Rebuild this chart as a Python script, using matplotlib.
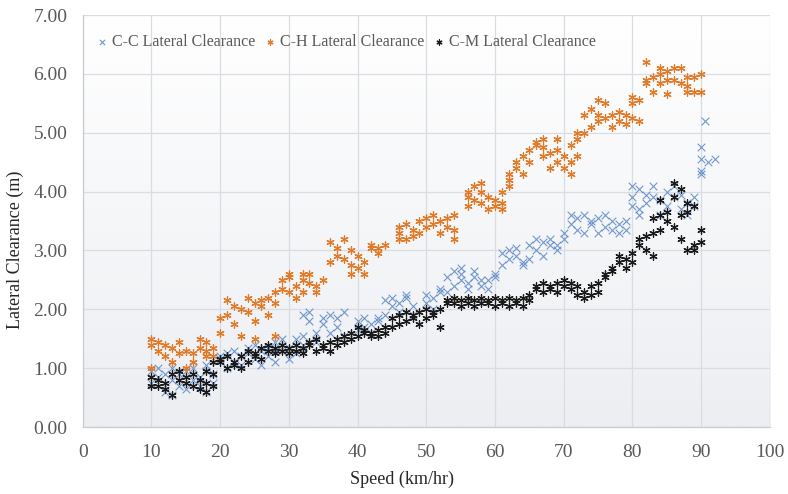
import numpy as np
import matplotlib
matplotlib.use("Agg")
import matplotlib.pyplot as plt

# Speed (km/hr) and lateral clearance (m) for each vehicle-pair type
cc_speed = [10, 10, 11, 11, 12, 12, 13, 13, 13, 14, 14, 15, 15, 16, 16, 17, 17, 18, 18, 18, 19, 19,
            20, 20, 21, 21, 22, 22, 23, 23, 24, 24, 25, 25, 26, 26, 27, 27, 28, 28, 28, 29, 29, 30, 30,
            31, 31, 32, 32, 32, 33, 33, 34, 34, 35, 35, 36, 36, 37, 37, 38, 38,
            40, 40, 41, 41, 42, 42, 43, 43, 44, 44, 45, 45, 46, 46, 47, 47, 48, 48,
            50, 50, 51, 51, 52, 52, 53, 53, 54, 54, 55, 55, 55, 56, 56, 57, 57, 58, 58, 59, 59, 60, 60,
            61, 61, 62, 62, 63, 63, 64, 64, 65, 65, 66, 66, 67, 67, 68, 68, 69, 69, 70, 70,
            71, 71, 72, 72, 73, 73, 74, 74, 75, 75, 76, 76, 77, 77, 78, 78, 79, 79,
            80, 80, 80, 81, 81, 81, 82, 82, 83, 83, 84, 84, 85, 85, 86, 86, 87, 87, 88, 88, 89, 89,
            90, 90, 90, 90, 90.5, 91, 92]
cc_clear = [0.95, 0.75, 0.85, 1.00, 0.60, 0.90, 0.55, 0.80, 1.00, 0.70, 0.90, 0.95, 0.65, 0.80, 1.00, 0.85, 0.70, 0.95, 1.05, 0.60, 0.75, 0.90,
            1.15, 1.20, 1.00, 1.25, 1.10, 1.30, 1.20, 1.05, 1.25, 1.35, 1.15, 1.40, 1.30, 1.05, 1.35, 1.20, 1.30, 1.45, 1.10, 1.30, 1.50, 1.35, 1.15,
            1.25, 1.50, 1.90, 1.40, 1.55, 1.95, 1.80, 1.60, 1.45, 1.75, 1.85, 1.90, 1.60, 1.85, 1.70, 1.95, 1.55,
            1.65, 1.80, 1.70, 1.85, 1.60, 1.75, 1.85, 1.80, 2.15, 1.90, 2.20, 2.05, 2.10, 1.95, 2.25, 2.20, 2.05, 1.90,
            2.10, 2.25, 2.20, 2.00, 2.35, 2.30, 2.55, 2.30, 2.65, 2.40, 2.60, 2.50, 2.70, 2.45, 2.35, 2.65, 2.55, 2.40, 2.50, 2.50, 2.35, 2.55, 2.60,
            2.95, 2.75, 3.00, 2.85, 2.90, 3.05, 2.75, 2.80, 2.85, 3.10, 3.20, 3.00, 3.15, 2.90, 3.10, 3.20, 3.00, 3.10, 3.20, 3.30,
            3.60, 3.45, 3.55, 3.35, 3.60, 3.30, 3.45, 3.50, 3.55, 3.30, 3.40, 3.60, 3.35, 3.50, 3.45, 3.30, 3.50, 3.35,
            3.75, 4.10, 3.90, 4.05, 3.70, 3.60, 3.95, 3.80, 4.10, 3.90, 3.85, 3.60, 3.75, 4.00, 3.90, 4.10, 3.70, 3.95, 3.80, 3.60, 3.90, 3.75,
            4.75, 4.55, 4.35, 4.30, 5.20, 4.50, 4.55]

ch_speed = [10, 10, 10, 11, 11, 12, 12, 13, 13, 14, 14, 15, 15, 16, 16, 17, 17, 18, 18, 18, 19, 19,
            20, 20, 21, 21, 22, 22, 23, 23, 24, 24, 25, 25, 25, 26, 26, 27, 27, 28, 28, 28, 29, 29,
            30, 30, 30, 31, 31, 32, 32, 32, 33, 33, 34, 34, 35,
            36, 36, 37, 37, 38, 38, 39, 39, 39, 40, 40, 41, 41, 42, 42, 43, 43, 44,
            46, 46, 46, 47, 47, 48, 48, 49, 49, 50, 50, 51, 51, 52, 52, 53, 53, 54, 54, 54,
            56, 56, 56, 57, 57, 58, 58, 58, 59, 59, 60, 60, 61, 61, 61, 62, 62, 62, 63, 63, 64, 64,
            65, 65, 66, 66, 67, 67, 67, 68, 68, 69, 69, 69, 70, 70, 71, 71, 71, 72, 72, 72,
            73, 73, 74, 74, 75, 75, 75, 76, 76, 77, 77, 78, 78, 79, 79, 80, 80, 80, 81, 81,
            82, 82, 82, 83, 83, 84, 84, 84, 85, 85, 85, 86, 86, 87, 87, 88, 88, 88, 89, 89, 90, 90]
ch_clear = [1.00, 1.40, 1.50, 1.45, 1.30, 1.40, 1.20, 1.35, 1.10, 1.45, 1.25, 1.30, 1.00, 1.25, 1.10, 1.50, 1.35, 1.45, 1.30, 1.20, 1.35, 1.20,
            1.85, 1.60, 2.15, 1.90, 1.75, 2.05, 2.00, 1.55, 1.95, 2.20, 2.10, 1.80, 1.50, 2.05, 2.15, 2.20, 1.90, 2.30, 2.10, 1.55, 2.35, 2.50,
            2.30, 2.55, 2.60, 2.40, 2.20, 2.50, 2.60, 2.30, 2.45, 2.60, 2.40, 2.30, 2.50,
            3.15, 2.80, 3.05, 2.90, 3.20, 2.85, 2.75, 3.00, 2.60, 2.90, 2.70, 2.60, 2.80, 3.05, 3.10, 3.05, 2.95, 3.10,
            3.40, 3.30, 3.20, 3.20, 3.45, 3.35, 3.25, 3.50, 3.30, 3.55, 3.40, 3.45, 3.60, 3.50, 3.30, 3.55, 3.40, 3.35, 3.20, 3.60,
            3.90, 4.00, 3.75, 4.10, 3.85, 4.00, 4.15, 3.80, 3.90, 3.70, 3.85, 3.75, 3.80, 4.00, 3.70, 4.30, 4.10, 4.20, 4.40, 4.50, 4.30, 4.60,
            4.70, 4.50, 4.80, 4.85, 4.75, 4.90, 4.60, 4.65, 4.40, 4.90, 4.70, 4.50, 4.60, 4.40, 4.30, 4.50, 4.80, 4.90, 5.00, 4.60,
            5.00, 5.30, 5.40, 5.10, 5.55, 5.20, 5.30, 5.25, 5.50, 5.30, 5.10, 5.20, 5.35, 5.15, 5.30, 5.50, 5.25, 5.60, 5.55, 5.20,
            5.85, 5.90, 6.20, 5.95, 5.70, 6.00, 5.85, 6.10, 6.05, 5.90, 5.65, 5.90, 6.10, 6.10, 5.85, 5.80, 5.95, 5.70, 5.70, 5.95, 6.00, 5.70]

cm_speed = [10, 10, 11, 11, 12, 12, 13, 13, 14, 14, 15, 15, 16, 16, 17, 17, 18, 18, 18, 19, 19, 19,
            20, 20, 21, 21, 22, 22, 23, 23, 24, 24, 25, 25, 26, 26, 27, 27, 28, 28, 29, 29,
            30, 30, 31, 31, 32, 32, 33, 33, 34, 34, 35, 35, 36, 36, 37, 37, 38, 38, 39, 39,
            40, 40, 41, 41, 42, 42, 43, 43, 44, 44, 45, 45, 46, 46, 47, 47, 48, 48, 49, 49,
            50, 50, 51, 51, 52, 52, 53, 53, 54, 54, 55, 55, 56, 56, 57, 57, 58, 58, 59, 59,
            60, 60, 61, 61, 62, 62, 63, 63, 64, 64, 65, 65, 66, 66, 67, 67, 68, 68, 69, 69,
            70, 70, 71, 71, 72, 72, 73, 73, 74, 74, 75, 75, 76, 76, 77, 77, 78, 78, 79, 79,
            80, 80, 81, 81, 82, 82, 83, 83, 83, 84, 84, 84, 85, 85, 86, 86, 86, 87, 87, 87,
            88, 88, 88, 89, 89, 89, 90, 90]
cm_clear = [0.70, 0.85, 0.70, 0.80, 0.75, 0.65, 0.90, 0.55, 0.80, 0.95, 0.75, 0.85, 0.70, 0.90, 0.80, 0.65, 0.95, 0.75, 0.60, 0.70, 0.90, 1.10,
            1.10, 1.15, 1.00, 1.20, 1.05, 1.10, 1.20, 1.00, 1.30, 1.10, 1.25, 1.20, 1.35, 1.15, 1.30, 1.40, 1.25, 1.35, 1.40, 1.30,
            1.25, 1.35, 1.40, 1.30, 1.35, 1.25, 1.45, 1.40, 1.30, 1.50, 1.40, 1.35, 1.45, 1.30, 1.40, 1.50, 1.55, 1.45, 1.60, 1.50,
            1.70, 1.55, 1.65, 1.60, 1.55, 1.60, 1.65, 1.55, 1.60, 1.70, 1.85, 1.70, 1.90, 1.75, 1.95, 1.80, 1.85, 1.90, 1.95, 1.75,
            2.00, 1.85, 1.95, 1.90, 1.70, 2.00, 2.15, 2.10, 2.10, 2.20, 2.05, 2.15, 2.10, 2.20, 2.15, 2.05, 2.20, 2.10, 2.10, 2.15,
            2.05, 2.20, 2.10, 2.15, 2.20, 2.05, 2.10, 2.15, 2.05, 2.20, 2.15, 2.25, 2.35, 2.40, 2.30, 2.45, 2.40, 2.35, 2.30, 2.45,
            2.50, 2.40, 2.45, 2.35, 2.25, 2.40, 2.30, 2.20, 2.40, 2.25, 2.30, 2.45, 2.60, 2.55, 2.65, 2.70, 2.90, 2.80, 2.85, 2.70,
            2.95, 2.80, 3.10, 3.20, 3.25, 3.00, 3.55, 3.30, 2.90, 3.85, 3.60, 3.35, 3.65, 3.50, 4.15, 3.90, 3.40, 4.05, 3.60, 3.20,
            3.65, 3.80, 3.00, 3.75, 3.10, 3.00, 3.35, 3.15]

series_names = ["C-C Lateral Clearance", "C-H Lateral Clearance", "C-M Lateral Clearance"]
x_ticks = list(range(0, 101, 10))
y_ticks = [0, 1, 2, 3, 4, 5, 6, 7]

plt.rcParams["font.family"] = ["Liberation Serif", "DejaVu Serif"]
text_color = "#595959"

fig = plt.figure(figsize=(7.88, 4.94), dpi=100)
ax = fig.add_axes([0.105, 0.1356, 0.872, 0.834])

# soft vertical gradient in the plot area
grad = np.linspace(0, 1, 256).reshape(-1, 1)
ax.imshow(grad, extent=[0, 100, 0, 7], aspect="auto", origin="upper",
          cmap=matplotlib.colors.LinearSegmentedColormap.from_list(
              "bg", ["#ffffff", "#eceef2"]), zorder=0)

star = (6, 2, 0)
ax.scatter(cc_speed, cc_clear, marker="x", s=30, color="#5a87c6", linewidths=0.8,
           alpha=0.85, label=series_names[0], zorder=3)
ax.scatter(ch_speed, ch_clear, marker=star, s=28, color="#e07b2a", linewidths=0.9,
           label=series_names[1], zorder=3)
ax.scatter(cm_speed, cm_clear, marker=star, s=28, color="#1a1a1a", linewidths=0.9,
           label=series_names[2], zorder=4)

ax.set_xlim(0, 100)
ax.set_ylim(0, 7)
ax.set_xticks(x_ticks)
ax.set_yticks(y_ticks)
ax.set_yticklabels([f"{v:.2f}" for v in y_ticks])
ax.tick_params(axis="both", length=0, labelsize=14, colors=text_color)
ax.tick_params(axis="x", pad=12)
ax.tick_params(axis="y", pad=11)
ax.grid(True, color="#d9dde3", linewidth=0.9, zorder=1)
ax.set_axisbelow(True)
for side in ["top", "right"]:
    ax.spines[side].set_visible(False)
for side in ["left", "bottom"]:
    ax.spines[side].set_color("#c8ccd2")
    ax.spines[side].set_linewidth(0.9)

ax.set_xlabel("Speed (km/hr)", fontsize=13, color="#262626")
ax.set_ylabel("Lateral Clearance (m)", fontsize=13, color="#262626")
ax.xaxis.set_label_coords(0.465, -0.107)
ax.yaxis.set_label_coords(-0.086, 0.43)

leg = ax.legend(loc="upper left", bbox_to_anchor=(0.0, 0.985), ncol=3, frameon=False,
                fontsize=11.5, handlelength=0.8, handletextpad=0.25, columnspacing=0.5,
                markerscale=0.7, borderaxespad=0.4)
for t in leg.get_texts():
    t.set_color(text_color)

fig.savefig("out.png", dpi=100)
